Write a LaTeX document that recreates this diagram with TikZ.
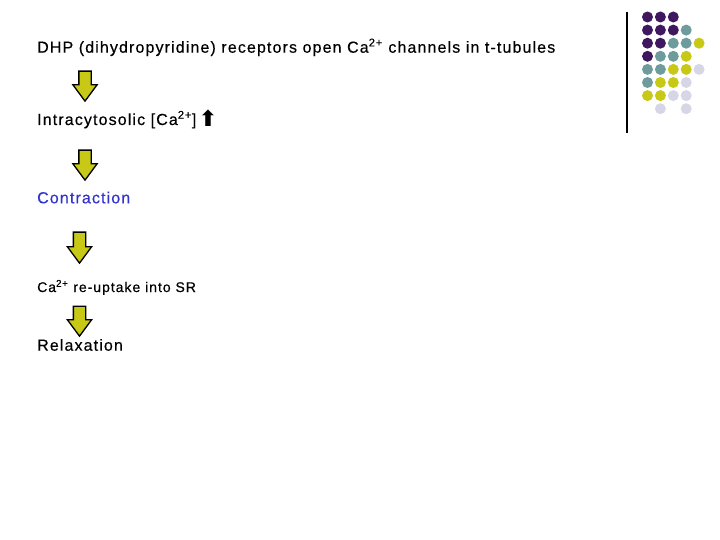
\documentclass[tikz,border=0pt]{standalone}
\usepackage{fontspec}
\setmainfont{Liberation Sans}[LetterSpace=7,FakeBold=0.4]
\newfontfamily\symfont{DejaVu Sans}
\usetikzlibrary{shapes.arrows}

\definecolor{purp}{RGB}{64,24,96}
\definecolor{teal}{RGB}{110,155,155}
\definecolor{olive}{RGB}{200,200,22}
\definecolor{lilac}{RGB}{214,214,230}
\definecolor{contrblue}{RGB}{51,51,204}

\begin{document}
\begin{tikzpicture}[x=1pt,y=-1pt,
						step text/.style={anchor=base west,inner sep=0pt,
						font=\fontsize{16}{19}\selectfont},
						down arrow/.style={single arrow,draw=black,fill=olive,
						line width=1.3pt,rotate=-90,anchor=tail,inner sep=5.5pt,
						minimum width=23pt,minimum height=30pt,
						single arrow head extend=6pt,
						single arrow tip angle=73,single arrow head indent=0pt},
						dot/.style={circle,fill=#1,minimum size=11pt,inner sep=0pt}]

		\useasboundingbox (0,0) rectangle (720,540);

		% steps
		\node[step text] (dhp) at (37,52.7)
			{DHP (dihydropyridine) receptors open Ca\textsuperscript{2+} channels in t-tubules};
		\node[step text] (ca) at (37,125)
			{Intracytosolic [Ca\textsuperscript{2+}]\,\raisebox{-2pt}{\symfont\bfseries\fontsize{22}{22}\selectfont ⬆}};
		\node[step text,text=contrblue] (con) at (37,203.3) {Contraction};
		\node[step text,font=\fontsize{14}{17}\selectfont] (sr) at (37,292)
			{Ca\textsuperscript{2+} re-uptake into SR};
		\node[step text] (rel) at (37,350.7) {Relaxation};

		\node[down arrow] (a1) at (85,70.5) {};
		\node[down arrow] (a2) at (85,149.5) {};
		\node[down arrow,minimum height=31pt] (a3) at (79.5,231.5) {};
		\node[down arrow] (a4) at (79.5,305.5) {};

		% corner decoration
		\draw[line width=1.3pt] (627,12) -- (627,133);
		\foreach \row/\cols in {0/{purp,purp,purp},
								1/{purp,purp,purp,teal},
								2/{purp,purp,teal,teal,olive},
								3/{purp,teal,teal,olive},
								4/{teal,teal,olive,olive,lilac},
								5/{teal,olive,olive,lilac},
								6/{olive,olive,lilac,lilac},
								7/{none,lilac,none,lilac}}
			\foreach \c [count=\i from 0] in \cols
				\ifx\c\none\else
				\node[dot=\c] (d\row\i) at (647.5+12.9*\i,17+13.1*\row) {};
				\fi
	\end{tikzpicture}
\end{document}
